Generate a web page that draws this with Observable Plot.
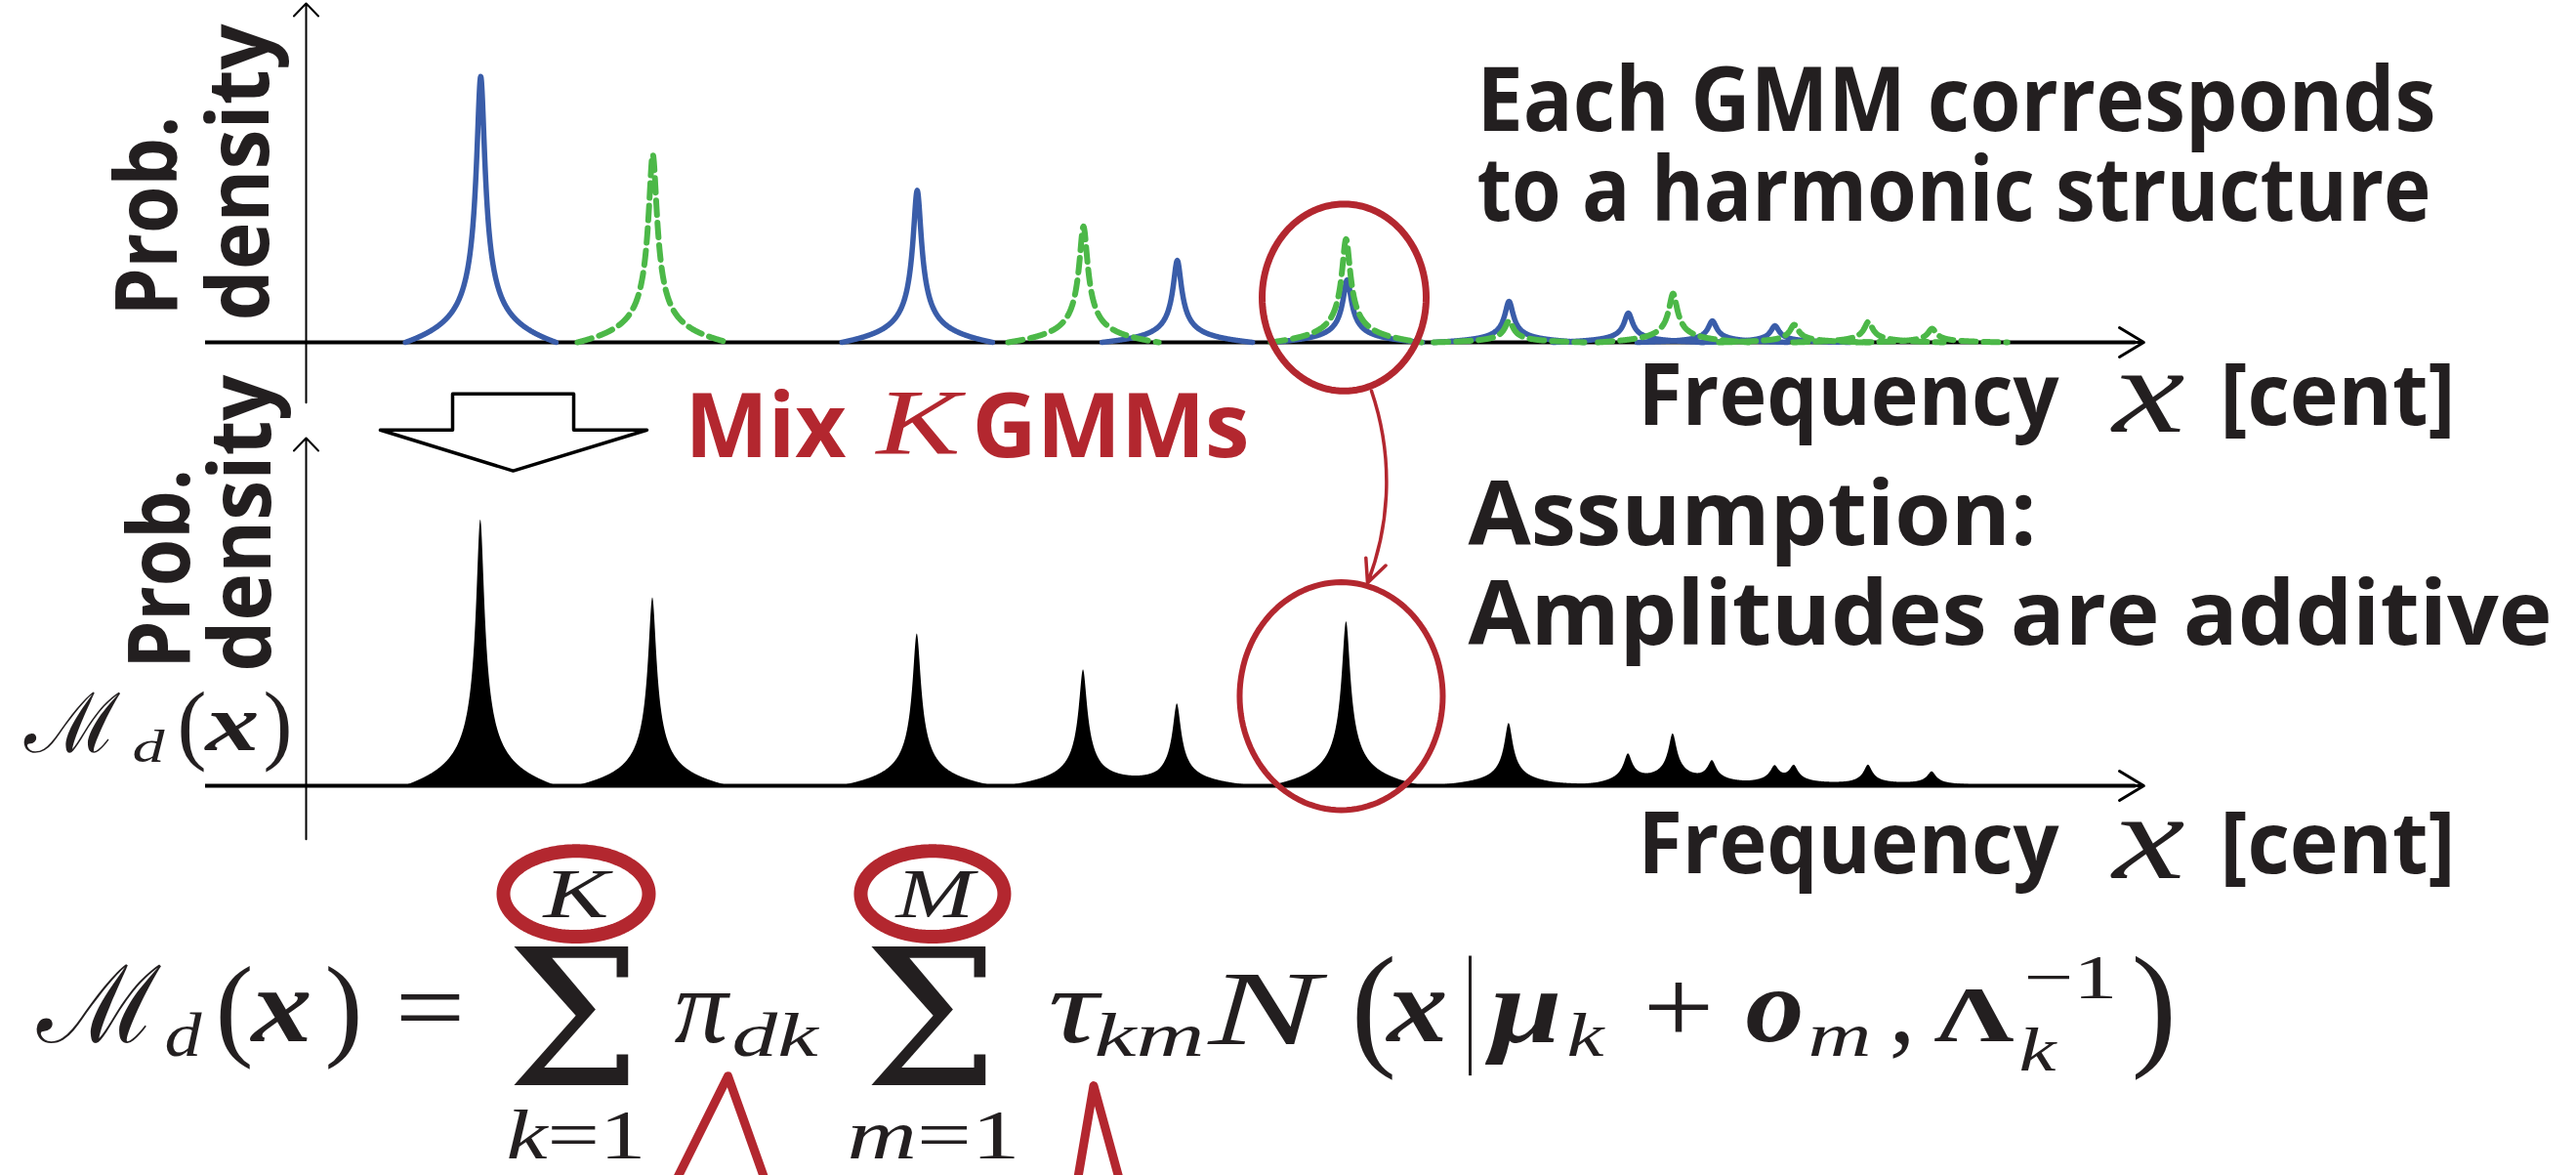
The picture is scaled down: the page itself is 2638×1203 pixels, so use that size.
<!DOCTYPE html>
<html><head><meta charset="utf-8">
<script src="https://cdn.jsdelivr.net/npm/d3@7"></script>
<script src="https://cdn.jsdelivr.net/npm/@observablehq/plot@0.6"></script>
<style>
html,body{margin:0;padding:0;background:#fff;}
#chart{width:2638px;height:1203px;overflow:hidden;}
</style></head><body><div id="chart"></div>
<script>
// ---------- data ----------
// harmonic peaks of the two GMMs (x in cents, height in density units)
const blueCenters  = [480, 1680, 2395, 2862, 3307, 3635, 3866, 4038];
const blueHeights  = [2.73, 1.56, 0.84, 0.64, 0.42, 0.30, 0.22, 0.17];
const greenCenters = [953, 2137, 2859, 3307, 3758, 4091, 4295, 4470];
const greenHeights = [1.93, 1.19, 1.06, 0.22, 0.50, 0.18, 0.21, 0.14];
const panels = ["single", "mixed"];

// peak profile (shape of one component), window in cents
const GAMMA = 10.7, WINDOW = 207;
const edge = 1 / Math.sqrt(1 + (WINDOW / GAMMA) ** 2);
function profile(d) {
  return 1 / Math.sqrt(1 + (d / GAMMA) ** 2) - edge * Math.abs(d) / WINDOW;
}
const offsets = d3.range(-WINDOW, WINDOW + 0.5, 1);
function curves(centers, heights) {
  return centers.flatMap((c, i) => offsets.map(d => ({id: i, x: c + d, y: heights[i] * profile(d), panel: "single"})));
}
const blueCurve = curves(blueCenters, blueHeights);
const greenCurve = curves(greenCenters, greenHeights);
const comps = blueCenters.map((c, i) => [c, blueHeights[i]]).concat(greenCenters.map((c, i) => [c, greenHeights[i]]));
const xs = d3.range(d3.min(comps, c => c[0]) - WINDOW, d3.max(comps, c => c[0]) + WINDOW + 0.5, 1);
const mixture = xs.map(x => {
  let s = 0, covered = false;
  for (const [c, h] of comps) if (Math.abs(x - c) <= WINDOW) { s += h * profile(x - c); covered = true; }
  return {x, y: covered ? s : NaN, panel: "mixed"};
});

// ---------- styling ----------
const INK = "#231f20", RED = "#b3272f", BLUE = "#3a5da9", GREEN = "#4cb848";
const SANS = "Open Sans", SERIF = "Liberation Serif";

function label(panel, text, x, y, o = {}) {
  return Plot.text([{text, panel}], {text: "text", fy: "panel", x, y, textAnchor: "start", lineAnchor: "bottom", fill: INK, ...o});
}
function ellipse(panel, cx, cy, rx, ry, strokeWidth) {
  const pts = d3.range(0, 360, 3).map(a => ({x: cx + rx * Math.cos(a * Math.PI / 180), y: cy + ry * Math.sin(a * Math.PI / 180), panel}));
  return Plot.line(pts, {x: "x", y: "y", fy: "panel", stroke: RED, strokeWidth, curve: "linear-closed"});
}
function poly(panel, pts, o) {
  return Plot.line(pts.map(([x, y]) => ({x, y, panel})), {x: "x", y: "y", fy: "panel", ...o});
}

const axisRows = [{panel: "single", y1: -0.62, y2: 3.48}, {panel: "mixed", y1: -0.55, y2: 3.57}];

const bold = {fontFamily: SANS, fontWeight: "bold"};
const it = {fontFamily: SERIF, fontStyle: "italic"};
const bi = {fontFamily: SERIF, fontStyle: "italic", fontWeight: "bold"};
const rm = {fontFamily: SERIF};
const rot = {rotate: -90, fontFamily: SANS, fontWeight: "bold", fontSize: 88};

// formula pieces: [text, x (cents), y (density), font size, style]
const formula = [
  ["ℳ", -738.3, -2.63, 110, {fontFamily: "DejaVu Serif"}],
  ["d", -389.3, -2.77, 64, it],
  ["(", -249.7, -2.66, 117, rm],
  ["x", -150.3, -2.62, 108, bi],
  [")", 51.0, -2.66, 117, rm],
  ["=", 244.3, -2.63, 108, rm],
  ["Σ", 550.3, -3.07, 195, {fontFamily: "DejaVu Serif"}],
  ["K", 652.3, -1.35, 72, it],
  ["k=1", 550.3, -3.83, 72, rm],
  ["π", 1012.1, -2.63, 108, it],
  ["dk", 1170.5, -2.77, 64, it],
  ["Σ", 1532.9, -3.07, 195, {fontFamily: "DejaVu Serif"}],
  ["M", 1621.5, -1.35, 72, it],
  ["m=1", 1487.2, -3.83, 72, rm],
  ["τ", 2040.3, -2.63, 108, it],
  ["km", 2166.4, -2.77, 64, it],
  ["N", 2480.5, -2.65, 108, it],
  ["(", 2872.5, -2.72, 140, rm],
  ["x", 2971.8, -2.62, 108, bi],
  ["μ", 3256.4, -2.63, 108, bi],
  ["k", 3465.8, -2.77, 64, it],
  ["+", 3675.2, -2.63, 108, rm],
  ["o", 3957.0, -2.62, 108, bi],
  ["m", 4128.9, -2.77, 64, it],
  [",", 4351.7, -2.63, 108, rm],
  ["Λ", 4475.2, -2.62, 80, {fontFamily: SERIF, fontWeight: "bold"}],
  ["−1", 4722.1, -2.18, 64, rm],
  ["k", 4708.7, -2.92, 64, it],
  [")", 5017.4, -2.72, 140, rm]
];
const leftLabel = [
  ["ℳ", -773.2, 0.35, 85, {fontFamily: "DejaVu Serif"}],
  ["d", -477.9, 0.25, 46, it],
  ["(", -354.4, 0.34, 90, rm],
  ["x", -276.5, 0.37, 83, bi],
  [")", -118.1, 0.34, 90, rm]
];
// rendered widths (px) of texts, keyed by "text|font size"
const fit = new Map([
  ["Prob.|88", 205], ["density|88", 304],
  ["Each GMM corresponds|91", 982], ["to a harmonic structure|91", 977],
  ["Assumption:|91", 582], ["Amplitudes are additive|91", 1110],
  ["Frequency|88", 431], ["[cent]|88", 241], ["x|125", 74],
  ["Mix|91", 165], ["GMMs|91", 284], ["K|96", 86],
  ["dk|64", 88], ["km|64", 113], ["d|64", 38], ["k|64", 38], ["m|64", 65],
  ["k=1|72", 143], ["m=1|72", 177], ["K|72", 67], ["M|72", 80],
  ["N|108", 114], ["μ|108", 73], ["x|108", 62], ["o|108", 60], ["π|108", 55], ["τ|108", 51],
  ["=|108", 72], ["+|108", 73], ["Λ|80", 82], ["−1|64", 96],
  ["x|83", 55], ["d|46", 33]
]);

const marks = [
  // axes
  Plot.ruleY(axisRows, {fy: "panel", y: 0, x1: -276.5, x2: 5030, stroke: "black", strokeWidth: 4}),
  Plot.arrow(axisRows, {fy: "panel", x1: 4700, x2: 5052, y1: 0, y2: 0, stroke: "black", strokeWidth: 3, headLength: 14.5, headAngle: 62}),
  Plot.arrow(axisRows, {fy: "panel", x1: 0, x2: 0, y1: "y1", y2: "y2", stroke: "black", strokeWidth: 2, headLength: 13.5, headAngle: 88}),
  // top: individual GMMs
  Plot.line(blueCurve, {x: "x", y: "y", z: "id", fy: "panel", stroke: BLUE, strokeWidth: 5.5}),
  Plot.line(greenCurve, {x: "x", y: "y", z: "id", fy: "panel", stroke: GREEN, strokeWidth: 6, strokeDasharray: "15,8"}),
  // bottom: mixture
  Plot.areaY(mixture, {x: "x", y1: 0, y2: "y", fy: "panel", fill: "black"}),
  // block arrow
  poly("single", [[402.7, -0.53], [735.6, -0.53], [735.6, -0.90], [936.9, -0.90], [569.1, -1.32], [204.0, -0.90], [402.7, -0.90]],
       {fill: "white", stroke: "black", strokeWidth: 3.5, curve: "linear-closed"}),
  // red annotations
  ellipse("single", 2853.7, 0.46, 225.5, 0.96, 7),
  ellipse("mixed", 2845.6, 0.92, 279.2, 1.17, 6),
  Plot.arrow([{panel: "single"}], {fy: "panel", x1: 2928.9, y1: -0.50, x2: 2918.1, y2: -2.47, bend: 20, stroke: RED, strokeWidth: 3.5, headLength: 11, headAngle: 50}),
  ellipse("mixed", 742.3, -1.11, 200, 0.44, 14),
  ellipse("mixed", 1722, -1.11, 197.3, 0.44, 14),
  poly("mixed", [[1017.4, -4.05], [1159.7, -2.98], [1261.7, -4.05]], {stroke: RED, strokeWidth: 9}),
  poly("mixed", [[2120.8, -4.05], [2165.1, -3.08], [2236.2, -4.05]], {stroke: RED, strokeWidth: 9}),
  Plot.ruleX([{panel: "mixed"}], {fy: "panel", x: 3200, y1: -1.75, y2: -2.98, stroke: INK, strokeWidth: 3}),
  // texts
  label("single", "Prob.", -354.4, 0.27, rot),
  label("single", "density", -104.7, 0.22, rot),
  label("mixed", "Prob.", -319.5, 1.20, rot),
  label("mixed", "density", -99.3, 1.17, rot),
  label("single", "Each GMM corresponds", 3218.8, 2.17, {...bold, fontSize: 91}),
  label("single", "to a harmonic structure", 3218.8, 1.25, {...bold, fontSize: 91}),
  label("single", "Frequency", 3661.7, -0.85, {...bold, fontSize: 88}),
  label("single", "x", 4966.4, -0.92, {...it, fontSize: 125}),
  label("single", "[cent]", 5261.7, -0.85, {...bold, fontSize: 88}),
  label("mixed", "Frequency", 3661.7, -0.90, {...bold, fontSize: 88}),
  label("mixed", "x", 4966.4, -0.95, {...it, fontSize: 125}),
  label("mixed", "[cent]", 5261.7, -0.90, {...bold, fontSize: 88}),
  label("single", "Mix", 1041.6, -1.18, {...bold, fontSize: 91, fill: RED}),
  label("single", "K", 1567.8, -1.15, {...it, fontSize: 96, fill: RED}),
  label("single", "GMMs", 1830.9, -1.18, {...bold, fontSize: 91, fill: RED}),
  label("mixed", "Assumption:", 3194.6, 2.47, {...bold, fontSize: 91}),
  label("mixed", "Amplitudes are additive", 3194.6, 1.45, {...bold, fontSize: 91}),
  ...leftLabel.map(([t, x, y, s, o]) => label("mixed", t, x, y, {fontSize: s, ...o})),
  ...formula.map(([t, x, y, s, o]) => label("mixed", t, x, y, {fontSize: s, ...o}))
];

const chart = Plot.plot({
  width: 2638, height: 1203,
  marginTop: 0, marginRight: 0, marginBottom: 398, marginLeft: 0,
  style: {background: "white"},
  x: {domain: [-840.27, 6241.6], axis: null},
  y: {domain: [0, 3.5], axis: null},
  fy: {domain: panels, paddingInner: 0.230769, paddingOuter: 0, axis: null, label: null},
  marks
});
document.getElementById("chart").appendChild(chart);
const SVGNS = "http://www.w3.org/2000/svg";
chart.querySelectorAll("text").forEach(t => {
  const s = t.textContent;
  if (s === "k=1" || s === "m=1") {
    // italic index letter followed by upright "=1"
    t.textContent = "";
    const a = document.createElementNS(SVGNS, "tspan");
    a.setAttribute("font-style", "italic");
    a.textContent = s[0];
    const b = document.createElementNS(SVGNS, "tspan");
    b.textContent = s.slice(1);
    t.append(a, b);
  }
  const key = `${s}|${parseFloat(getComputedStyle(t).fontSize)}`;
  if (fit.has(key)) {
    t.setAttribute("textLength", fit.get(key));
    t.setAttribute("lengthAdjust", "spacingAndGlyphs");
  }
});
</script></body></html>
